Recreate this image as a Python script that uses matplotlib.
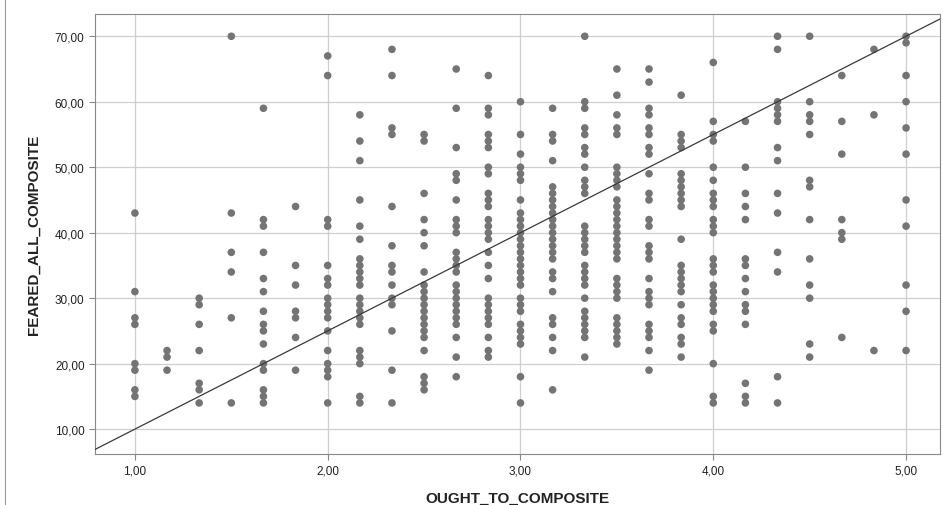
import numpy as np
import matplotlib.pyplot as plt
from matplotlib.lines import Line2D

plt.rcParams['font.family'] = ['Liberation Sans', 'DejaVu Sans']

# FEARED_ALL_COMPOSITE values, grouped by OUGHT_TO_COMPOSITE level (k/6 steps)
x_levels = [1.00, 7/6, 8/6, 1.50, 10/6, 11/6, 2.00, 13/6, 14/6, 2.50, 16/6, 17/6,
            3.00, 19/6, 20/6, 3.50, 22/6, 23/6, 4.00, 25/6, 26/6, 4.50, 28/6, 29/6, 5.00]
y_groups = [
    [43, 31, 27, 26, 20, 19, 16, 15],
    [22, 21, 19],
    [30, 29, 26, 22, 17, 16, 14],
    [70, 43, 37, 34, 27, 14],
    [59, 42, 41, 37, 33, 31, 28, 26, 25, 23, 20, 19, 16, 15, 14],
    [44, 35, 32, 28, 27, 24, 19],
    [67, 64, 42, 41, 35, 33, 32, 30, 29, 28, 27, 25, 22, 20, 19, 18, 14],
    [58, 54, 51, 45, 41, 39, 36, 35, 34, 33, 32, 30, 29, 28, 27, 26, 22, 21, 20, 15, 14],
    [68, 64, 56, 55, 44, 38, 35, 34, 32, 30, 29, 25, 19, 14],
    [55, 54, 46, 42, 40, 38, 34, 32, 31, 30, 29, 28, 27, 26, 25, 24, 22, 18, 17, 16],
    [65, 59, 53, 49, 48, 45, 42, 41, 40, 37, 36, 35, 34, 32, 31, 30, 29, 28, 27, 26, 24, 21, 18],
    [64, 59, 58, 55, 54, 53, 50, 49, 46, 45, 44, 42, 41, 40, 39, 37, 35, 33, 30, 29, 28, 27, 26, 24, 22, 21],
    [60, 55, 52, 50, 49, 48, 45, 43, 42, 41, 40, 39, 38, 37, 36, 35, 34, 33, 32, 30, 29, 28, 26, 25, 24, 23, 18, 14],
    [59, 55, 54, 51, 47, 46, 45, 44, 43, 42, 41, 40, 39, 38, 37, 36, 34, 33, 31, 27, 26, 24, 22, 16],
    [70, 60, 59, 56, 55, 53, 52, 50, 48, 47, 46, 41, 40, 39, 38, 37, 35, 34, 33, 32, 30, 28, 27, 26, 25, 24, 21],
    [65, 61, 58, 56, 55, 50, 49, 48, 47, 45, 44, 43, 42, 41, 40, 39, 38, 37, 36, 33, 32, 31, 30, 27, 26, 25, 24, 23],
    [65, 63, 59, 58, 56, 55, 53, 52, 49, 46, 45, 42, 41, 38, 37, 36, 33, 31, 30, 29, 26, 25, 24, 22, 19],
    [61, 55, 54, 53, 49, 48, 47, 46, 45, 44, 39, 35, 34, 33, 32, 31, 29, 27, 26, 24, 23, 21],
    [66, 57, 55, 54, 50, 48, 46, 45, 44, 42, 41, 40, 36, 35, 34, 32, 31, 30, 29, 28, 26, 25, 20, 15, 14],
    [57, 50, 46, 44, 42, 36, 35, 33, 31, 29, 28, 26, 17, 15, 14],
    [70, 68, 60, 59, 58, 57, 53, 51, 46, 43, 37, 34, 18, 14],
    [70, 60, 58, 57, 55, 48, 47, 42, 36, 32, 30, 23, 21],
    [64, 57, 52, 42, 40, 39, 24],
    [68, 58, 22],
    [70, 69, 64, 60, 56, 52, 45, 41, 32, 28, 22],
]
# reference line y = a + b*x
line_a, line_b = -5.0, 15.0

xs = np.concatenate([[x] * len(g) for x, g in zip(x_levels, y_groups)])
ys = np.concatenate(y_groups)

fig = plt.figure(figsize=(9.43, 5.06), dpi=100)
ax = fig.add_axes([95 / 943, 51 / 506, 845 / 943, 440 / 506])

ax.scatter(xs, ys, s=30, color='#747474', edgecolors='none', zorder=3)

xl = (0.793, 5.176)
ax.plot(xl, [line_a + line_b * v for v in xl], color='#3a3a3a', lw=0.9, zorder=4)

ax.set_xlim(*xl)
ax.set_ylim(6.2, 73.4)
ax.set_xticks([1, 2, 3, 4, 5])
ax.set_yticks(range(10, 71, 10))
ax.set_xticklabels([f'{v:.2f}'.replace('.', ',') for v in [1, 2, 3, 4, 5]])
ax.set_yticklabels([f'{v:.2f}'.replace('.', ',') for v in range(10, 71, 10)])
ax.tick_params(labelsize=8.5, length=4, color='#888888', colors='#222222')
ax.grid(True, color='#cfcfcf', lw=0.9, zorder=0)
ax.set_axisbelow(True)
for sp in ax.spines.values():
    sp.set_color('#888888')
    sp.set_linewidth(0.8)

ax.set_xlabel('OUGHT_TO_COMPOSITE', fontsize=11, fontweight='bold', color='#222222', labelpad=10)
ax.set_ylabel('FEARED_ALL_COMPOSITE', fontsize=11, fontweight='bold', color='#222222', labelpad=10)

# thin border on the left edge of the image
fig.add_artist(Line2D([5 / 943, 5 / 943], [0, 1], transform=fig.transFigure, color='#999999', lw=0.8))

fig.savefig('out.png', dpi=100)
